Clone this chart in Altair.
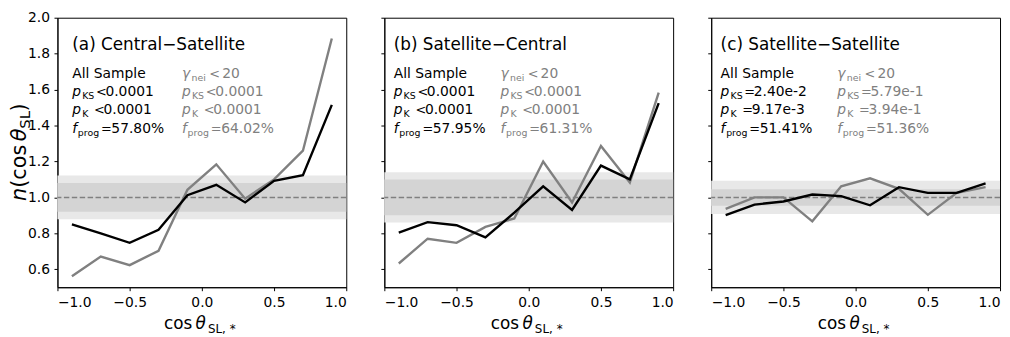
import altair as alt
import pandas as pd

# ---------------- data ----------------
X = [-0.9, -0.7, -0.5, -0.3, -0.1, 0.1, 0.3, 0.5, 0.7, 0.9]

ALL_A = [0.850, 0.800, 0.747, 0.820, 1.012, 1.070, 0.972, 1.092, 1.124, 1.515]
NEI_A = [0.561, 0.671, 0.623, 0.703, 1.042, 1.184, 0.993, 1.100, 1.260, 1.884]
ALL_B = [0.804, 0.862, 0.845, 0.777, 0.915, 1.062, 0.930, 1.177, 1.100, 1.525]
NEI_B = [0.632, 0.770, 0.747, 0.836, 0.883, 1.200, 0.972, 1.286, 1.083, 1.583]
ALL_C = [0.901, 0.960, 0.977, 1.016, 1.007, 0.956, 1.057, 1.025, 1.025, 1.078]
NEI_C = [0.936, 1.000, 1.000, 0.867, 1.062, 1.106, 1.048, 0.903, 1.025, 1.057]

BAND_INNER = [0.080, 0.100, 0.046]
BAND_OUTER = [0.122, 0.140, 0.092]

TITLES = ["(a) Central\u2212Satellite", "(b) Satellite\u2212Central", "(c) Satellite\u2212Satellite"]
ALL_PKS_OP = ["<", "<", "="]
ALL_PKS = ["0.0001", "0.0001", "2.40e-2"]
ALL_PK_OP = ["<", "<", "="]
ALL_PK = ["0.0001", "0.0001", "9.17e-3"]
ALL_F = ["57.80%", "57.95%", "51.41%"]
NEI_PKS_OP = ["<", "<", "="]
NEI_PKS = ["0.0001", "0.0001", "5.79e-1"]
NEI_PK_OP = ["<", "<", "="]
NEI_PK = ["0.0001", "0.0001", "3.94e-1"]
NEI_F = ["64.02%", "61.31%", "51.36%"]

Y_TICKS = [0.6, 0.8, 1.0, 1.2, 1.4, 1.6, 1.8, 2.0]
X_TICKS = [-1.0, -0.5, 0.0, 0.5, 1.0]

# ---------------- layout / style ----------------
W, H = 292, 272.5
FONT = "DejaVu Sans"
BLACK = "#000000"
GRAY = "#808080"
COL_BLACK = [15, 9.5, 9.5]
COL_GRAY = [126, 117.5, 127.5]
ROWS = [61.2, 79.5, 97.8, 116.5]
TITLE_Y = 32.8
SUB = 9.5
OP = 13

xs = alt.Scale(domain=[-1, 1], nice=False, zero=False)
ys = alt.Scale(domain=[0.5, 2.0], nice=False, zero=False)


def piece(s, x, y, size, color, italic=False, angle=None, dx=0, dy=0):
    mk = dict(align="left", baseline="alphabetic", font=FONT, fontSize=size,
              color=color, dx=dx, dy=dy)
    if italic:
        mk["fontStyle"] = "italic"
    if angle is not None:
        mk["angle"] = angle
    return alt.Chart(alt.Data(values=[{"t": s}])).mark_text(**mk).encode(
        x=alt.value(x), y=alt.value(y), text="t:N")


def stat_column(x0, color, first, first_sub, op1, v1, op2, v2, vf):
    out = []
    if first_sub is None:
        out.append(piece(first, x0, ROWS[0], 14, color))
    else:
        out.append(piece(first, x0, ROWS[0], 14, color, italic=True))
        out.append(piece(first_sub, x0 + 9.6, ROWS[0], SUB, color, dy=3))
        out.append(piece("<", x0 + 27.5, ROWS[0], OP, color))
        out.append(piece("20", x0 + 40.5, ROWS[0], 14, color))
    # p_KS
    out.append(piece("p", x0, ROWS[1], 14, color, italic=True))
    out.append(piece("KS", x0 + 10, ROWS[1], SUB, color, dy=3))
    out.append(piece(op1, x0 + 24, ROWS[1], OP, color))
    out.append(piece(v1, x0 + 33.5, ROWS[1], 14, color))
    # p_K
    out.append(piece("p", x0, ROWS[2], 14, color, italic=True))
    out.append(piece("K", x0 + 10, ROWS[2], SUB, color, dy=3))
    out.append(piece(op2, x0 + 22, ROWS[2], OP, color))
    out.append(piece(v2, x0 + 31.5, ROWS[2], 14, color))
    # f_prog
    out.append(piece("f", x0, ROWS[3], 14, color, italic=True))
    out.append(piece("prog", x0 + 5.6, ROWS[3], SUB, color, dy=3))
    out.append(piece("=", x0 + 29, ROWS[3], OP, color))
    out.append(piece(vf, x0 + 39.5, ROWS[3], 14, color))
    return out


def panel(i, all_vals, nei_vals, show_ylabels):
    df = pd.DataFrame({"x": X, "all": all_vals, "nei": nei_vals})
    band = pd.DataFrame({
        "lo": [1 - BAND_OUTER[i], 1 - BAND_INNER[i]],
        "hi": [1 + BAND_OUTER[i], 1 + BAND_INNER[i]],
        "c": ["outer", "inner"],
    })
    xaxis = alt.Axis(values=X_TICKS, tickCount=20, format=".1f", title=None,
                     grid=False, tickSize=3.5, labelPadding=4.5,
                     labelOverlap=False)
    yaxis = alt.Axis(values=Y_TICKS, tickCount=20, format=".1f", title=None,
                     grid=False, tickSize=3.5, labelPadding=4.5,
                     labels=show_ylabels, labelOverlap=False)

    bands = alt.Chart(band).mark_rect().encode(
        y=alt.Y("lo:Q", scale=ys, axis=yaxis),
        y2="hi:Q",
        color=alt.Color("c:N", scale=alt.Scale(domain=["outer", "inner"],
                                               range=["#e8e8e8", "#d4d4d4"]),
                        legend=None),
    )
    ref = alt.Chart(pd.DataFrame({"y": [1.0]})).mark_rule(
        color=GRAY, strokeWidth=1.5, strokeDash=[5.5, 2.5]).encode(
        y=alt.Y("y:Q", scale=ys, axis=yaxis))
    gray_line = alt.Chart(df).mark_line(color=GRAY, strokeWidth=2.4).encode(
        x=alt.X("x:Q", scale=xs, axis=xaxis),
        y=alt.Y("nei:Q", scale=ys, axis=yaxis))
    black_line = alt.Chart(df).mark_line(color=BLACK, strokeWidth=2.4).encode(
        x=alt.X("x:Q", scale=xs, axis=xaxis),
        y=alt.Y("all:Q", scale=ys, axis=yaxis))

    layers = [bands, ref, gray_line, black_line]
    layers.append(piece(TITLES[i], COL_BLACK[i], TITLE_Y, 17, BLACK))
    layers += stat_column(COL_BLACK[i], BLACK, "All Sample", None,
                          ALL_PKS_OP[i], ALL_PKS[i], ALL_PK_OP[i], ALL_PK[i], ALL_F[i])
    layers += stat_column(COL_GRAY[i], GRAY, "\u03b3", "nei",
                          NEI_PKS_OP[i], NEI_PKS[i], NEI_PK_OP[i], NEI_PK[i], NEI_F[i])

    # x-axis title: cos θ_{SL,*}
    x0 = W / 2 - 38.3
    xt_y = H + 42.5
    layers += [
        piece("cos", x0, xt_y, 17, BLACK),
        piece("\u03b8", x0 + 32, xt_y, 17, BLACK, italic=True),
        piece("SL,", x0 + 44.5, xt_y, 12, BLACK, dy=3.5),
        piece("*", x0 + 66.5, xt_y, 12, BLACK, dy=3.5),
    ]
    if show_ylabels:
        ax, ay = -32, H / 2 + 49
        layers += [
            piece("n", ax, ay, 21, BLACK, italic=True, angle=270, dx=0),
            piece("(cos", ax, ay, 21, BLACK, angle=270, dx=13.3),
            piece("\u03b8", ax, ay, 21, BLACK, italic=True, angle=270, dx=60.4),
            piece("SL", ax, ay, 15, BLACK, angle=270, dx=73.0, dy=4),
            piece(")", ax, ay, 21, BLACK, angle=270, dx=90.5),
        ]
    return alt.layer(*layers).properties(width=W, height=H)


pa = panel(0, ALL_A, NEI_A, True)
pb = panel(1, ALL_B, NEI_B, False)
pc = panel(2, ALL_C, NEI_C, False)

chart = alt.hconcat(pa, pb, pc, spacing=31.5).properties(
    padding={"left": 0, "top": 0, "right": 0, "bottom": 0}
).configure_view(
    stroke="#000000", strokeWidth=1
).configure_axis(
    domainColor="#000000", domainWidth=1, tickColor="#000000", tickWidth=1,
    labelFont=FONT, labelFontSize=14, labelColor="#000000"
).configure_text(font=FONT)

chart.save("out.html", embed_options={"renderer": "svg", "actions": False})
